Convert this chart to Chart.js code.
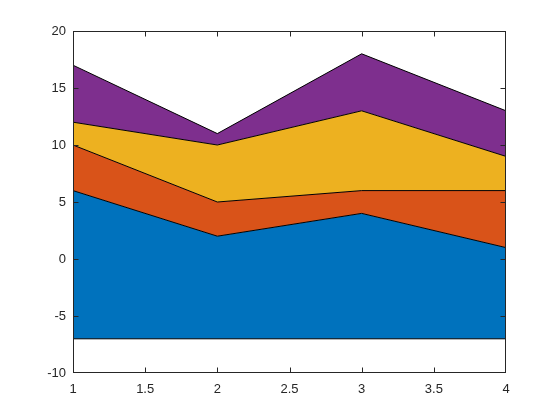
<!DOCTYPE html>
<html>
<head>
<meta charset="utf-8">
<script src="https://cdn.jsdelivr.net/npm/chart.js@4/dist/chart.umd.min.js"></script>
<style>
html,body{margin:0;padding:0;background:#fff;}
#wrap{width:560px;height:420px;}
</style>
</head>
<body>
<div id="wrap"><canvas id="c" width="560" height="420"></canvas></div>
<script>
// Data (MATLAB-style stacked area with BaseValue -7)
const xValues = [1, 2, 3, 4];
const series1 = [6, 2, 4, 1];
const series2 = [4, 3, 2, 5];
const series3 = [2, 5, 7, 3];
const series4 = [5, 1, 5, 4];
const baseValue = -7;
const xTicks = [1, 1.5, 2, 2.5, 3, 3.5, 4];
const yTicks = [-10, -5, 0, 5, 10, 15, 20];
const colors = ['#0072BD', '#D95319', '#EDB120', '#7E2F8E'];

const allSeries = [series1, series2, series3, series4];
const cum = [];
allSeries.forEach((s, i) => {
  cum.push(s.map((v, j) => v + (i > 0 ? cum[i - 1][j] : 0)));
});

const datasets = cum.map((tops, i) => ({
  data: xValues.map((x, j) => ({x: x, y: tops[j]})),
  backgroundColor: colors[i],
  borderColor: '#000',
  borderWidth: 1,
  pointRadius: 0,
  tension: 0,
  fill: i === 0 ? {value: baseValue} : '-1'
}));

const boxPlugin = {
  id: 'box',
  afterDatasetsDraw(chart) {
    const ctx = chart.ctx;
    const xs = chart.scales.x, ys = chart.scales.y;
    const a = chart.chartArea;
    ctx.save();
    // bottom edge of base area
    ctx.strokeStyle = '#000';
    ctx.lineWidth = 1;
    const yb = ys.getPixelForValue(baseValue);
    ctx.beginPath();
    ctx.moveTo(xs.getPixelForValue(xValues[0]), yb);
    ctx.lineTo(xs.getPixelForValue(xValues[xValues.length - 1]), yb);
    ctx.stroke();
    // axes box
    ctx.strokeStyle = '#262626';
    const L = Math.round(a.left) + 0.5, R = Math.round(a.right) - 0.5;
    const T = Math.round(a.top) + 0.5, B = Math.round(a.bottom) - 0.5;
    ctx.strokeRect(L, T, R - L, B - T);
    // inward ticks
    const tl = 5;
    const clamp = (v, lo, hi) => Math.min(hi, Math.max(lo, v));
    ctx.beginPath();
    xTicks.forEach(v => {
      const px = clamp(Math.round(xs.getPixelForValue(v)) + 0.5, L, R);
      ctx.moveTo(px, B); ctx.lineTo(px, B - tl);
      ctx.moveTo(px, T); ctx.lineTo(px, T + tl);
    });
    yTicks.forEach(v => {
      const py = clamp(Math.round(ys.getPixelForValue(v)) + 0.5, T, B);
      ctx.moveTo(L, py); ctx.lineTo(L + tl, py);
      ctx.moveTo(R, py); ctx.lineTo(R - tl, py);
    });
    ctx.stroke();
    ctx.restore();
  }
};

new Chart(document.getElementById('c'), {
  type: 'line',
  data: {datasets: datasets},
  options: {
    responsive: false,
    animation: false,
    layout: {padding: {left: 0, right: 54, top: 31, bottom: 0}},
    plugins: {legend: {display: false}, tooltip: {enabled: false}},
    scales: {
      x: {
        type: 'linear',
        min: 1, max: 4,
        afterBuildTicks(s) { s.ticks = xTicks.map(v => ({value: v})); },
        afterFit(s) { s.height = 47; },
        grid: {display: false, drawTicks: false},
        border: {display: false},
        ticks: {
          padding: 9,
          color: '#262626',
          font: {family: 'Liberation Sans, Arial, sans-serif', size: 13},
          maxRotation: 0,
          callback: v => String(v)
        }
      },
      y: {
        type: 'linear',
        min: -10, max: 20,
        afterBuildTicks(s) { s.ticks = yTicks.map(v => ({value: v})); },
        afterFit(s) { s.width = 73; },
        grid: {display: false, drawTicks: false},
        border: {display: false},
        ticks: {
          padding: 7,
          color: '#262626',
          font: {family: 'Liberation Sans, Arial, sans-serif', size: 13},
          callback: v => String(v)
        }
      }
    }
  },
  plugins: [boxPlugin]
});
</script>
</body>
</html>
